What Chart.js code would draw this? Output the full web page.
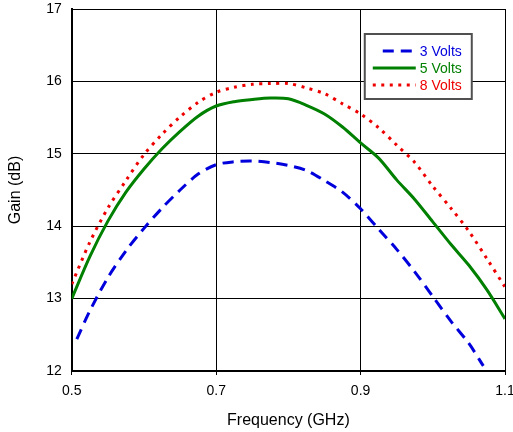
<!DOCTYPE html>
<html>
<head>
<meta charset="utf-8">
<script src="https://cdn.jsdelivr.net/npm/chart.js@4/dist/chart.umd.min.js"></script>
<style>
  html, body { margin: 0; padding: 0; background: #fff; }
  #wrap { width: 513px; height: 432px; }
</style>
</head>
<body>
<div id="wrap"><canvas id="gain-chart" width="513" height="432"></canvas></div>
<script>
// Frequency (GHz) / gain (dB) for each curve
const freq3 = [0.507, 0.525, 0.55, 0.575, 0.6, 0.625, 0.65, 0.675, 0.7, 0.725, 0.75, 0.775, 0.8,
               0.825, 0.85, 0.875, 0.9, 0.925, 0.95, 0.975, 1.0, 1.025, 1.05, 1.07];
const gain3 = [12.44, 12.83, 13.29, 13.66, 13.97, 14.25, 14.5, 14.72, 14.85, 14.89, 14.9, 14.88, 14.84,
               14.77, 14.63, 14.47, 14.24, 13.96, 13.68, 13.37, 13.03, 12.69, 12.38, 12.07];

const freq = [0.5, 0.525, 0.55, 0.575, 0.6, 0.625, 0.65, 0.675, 0.7, 0.725, 0.75, 0.775, 0.8,
              0.825, 0.85, 0.875, 0.9, 0.925, 0.95, 0.975, 1.0, 1.025, 1.05, 1.075, 1.1];
const gain5 = [13.0, 13.58, 14.07, 14.47, 14.79, 15.07, 15.31, 15.52, 15.66, 15.72, 15.75, 15.77, 15.76,
               15.67, 15.55, 15.37, 15.15, 14.94, 14.64, 14.37, 14.06, 13.75, 13.46, 13.12, 12.72];
const gain8 = [13.2, 13.78, 14.25, 14.63, 14.99, 15.27, 15.51, 15.71, 15.85, 15.92, 15.96, 15.97, 15.97,
               15.91, 15.83, 15.69, 15.55, 15.36, 15.12, 14.88, 14.55, 14.25, 13.93, 13.55, 13.16];

const labels = ['3 Volts', '5 Volts', '8 Volts'];
const xTicks = [0.5, 0.7, 0.9, 1.1];
const yTicks = [12, 13, 14, 15, 16, 17];

const colors = ['#0000dd', '#008000', '#ee0000'];
const dashes = [[11, 7], [], [3, 5.5]];
const fontFamily = '"Liberation Sans", Arial, sans-serif';

function toPoints(xs, ys) {
    return xs.map((x, i) => ({ x: x, y: ys[i] }));
}

// legend box drawn inside the plot area, top right
const boxLegend = {
    id: 'boxLegend',
    afterDraw(chart) {
        const ctx = chart.ctx;
        const area = chart.chartArea;
        const left = area.left + 293, top = area.top + 25;
        const w = 107, h = 65;
        ctx.save();
        ctx.fillStyle = '#fff';
        ctx.fillRect(left, top, w, h);
        ctx.strokeStyle = '#505050';
        ctx.lineWidth = 2;
        ctx.strokeRect(left, top, w, h);
        ctx.font = '14px ' + fontFamily;
        ctx.textBaseline = 'middle';
        chart.data.datasets.forEach((ds, i) => {
            const y = top + 17 + i * 17;
            ctx.beginPath();
            ctx.setLineDash(ds.borderDash);
            ctx.strokeStyle = ds.borderColor;
            ctx.lineWidth = ds.borderWidth;
            ctx.moveTo(left + (i === 0 ? 18 : 8), y);
            ctx.lineTo(left + (i === 0 ? 47 : 51), y);
            ctx.stroke();
            ctx.setLineDash([]);
            ctx.fillStyle = ds.borderColor;
            ctx.fillText(ds.label, left + 55, y + 1);
        });
        ctx.restore();
    }
};

const series = [toPoints(freq3, gain3), toPoints(freq, gain5), toPoints(freq, gain8)];

new Chart(document.getElementById('gain-chart'), {
    type: 'line',
    data: {
        datasets: series.map((pts, i) => ({
            label: labels[i],
            data: pts,
            borderColor: colors[i],
            borderDash: dashes[i],
            borderWidth: 3,
            pointRadius: 0,
            fill: false,
            tension: 0.3
        }))
    },
    options: {
        responsive: false,
        animation: false,
        layout: { padding: { left: 6, right: 0, top: 0, bottom: 2 } },
        plugins: {
            legend: { display: false },
            tooltip: { enabled: false }
        },
        scales: {
            x: {
                type: 'linear',
                min: 0.5,
                max: 1.1,
                afterBuildTicks: (axis) => { axis.ticks = xTicks.map(v => ({ value: v })); },
                afterFit: (axis) => { axis.paddingRight = 8; },
                ticks: {
                    color: '#000',
                    font: { size: 14, family: fontFamily },
                    padding: 8,
                    callback: (v) => v.toFixed(1),
                    maxRotation: 0
                },
                grid: { color: '#000', lineWidth: 1, tickLength: 4 },
                border: { color: '#000', width: 2 },
                title: {
                    display: true,
                    text: 'Frequency (GHz)',
                    color: '#000',
                    font: { size: 16, family: fontFamily },
                    padding: { top: 3, bottom: 0 }
                }
            },
            y: {
                min: 12,
                max: 17,
                afterBuildTicks: (axis) => { axis.ticks = yTicks.map(v => ({ value: v })); },
                afterFit: (axis) => { axis.paddingTop = 9; },
                ticks: {
                    color: '#000',
                    font: { size: 14, family: fontFamily },
                    padding: 10
                },
                grid: { color: '#000', lineWidth: 1, tickLength: 0 },
                border: { color: '#000', width: 2 },
                title: {
                    display: true,
                    text: 'Gain (dB)',
                    color: '#000',
                    font: { size: 16, family: fontFamily },
                    padding: { top: 0, bottom: 11 }
                }
            }
        }
    },
    plugins: [boxLegend]
});
</script>
</body>
</html>
